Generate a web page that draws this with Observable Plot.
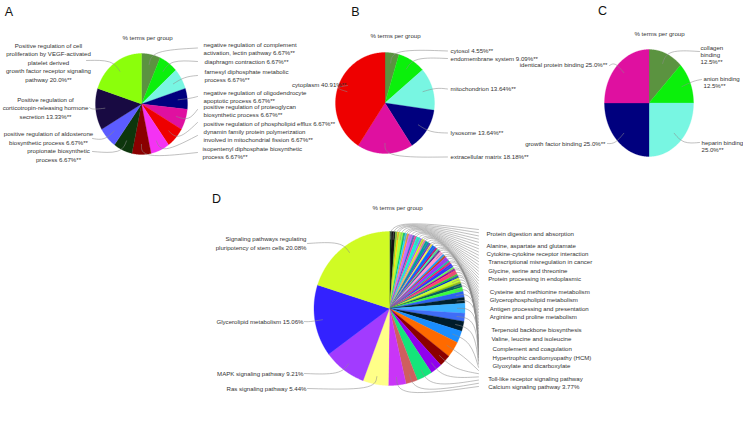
<!DOCTYPE html>
<html><head><meta charset="utf-8">
<script src="https://cdn.jsdelivr.net/npm/d3@7"></script>
<script src="https://cdn.jsdelivr.net/npm/@observablehq/plot@0.6"></script>
<style>body{margin:0;background:#fff}svg{display:block}</style>
</head><body><div id="chart"></div>
<script>
// ---------- Panel A (biological process) ----------
const aLabels = [
 "negative regulation of complement\nactivation, lectin pathway 6.67%**",
 "diaphragm contraction 6.67%**",
 "farnesyl diphosphate metabolic\nprocess 6.67%**",
 "negative regulation of oligodendrocyte\napoptotic process 6.67%**",
 "positive regulation of proteoglycan\nbiosynthetic process 6.67%**",
 "positive regulation of phospholipid efflux 6.67%**",
 "dynamin family protein polymerization\ninvolved in mitochondrial fission 6.67%**",
 "isopentenyl diphosphate biosynthetic\nprocess 6.67%**",
 "propionate biosynthetic\nprocess 6.67%**",
 "positive regulation of aldosterone\nbiosynthetic process 6.67%**",
 "Positive regulation of\ncorticotropin-releasing hormone\nsecretion 13.33%**",
 "Positive regulation of cell\nproliferation by VEGF-activated\nplatelet derived\ngrowth factor receptor signaling\npathway 20.0%**"
];
const aValues = [6.67,6.67,6.67,6.67,6.67,6.67,6.67,6.67,6.67,6.67,13.33,20.0];
const aColors = ["#5b9340","#0bf00b","#78f6e2","#00007e","#df10a0","#ee0000","#f432f4","#8a0000","#0d360c","#5c5cff","#180a42","#8bff0b"];

// ---------- Panel B (cellular component) ----------
const bLabels = ["cytosol 4.55%**","endomembrane system 9.09%**","mitochondrion 13.64%**","lysosome 13.64%**","extracellular matrix 18.18%**","cytoplasm 40.91%**"];
const bValues = [4.55,9.09,13.64,13.64,18.18,40.91];
const bColors = ["#5b9340","#0bf00b","#78f6e2","#00007e","#df10a0","#ee0000"];

// ---------- Panel C (molecular function) ----------
const cLabels = ["collagen\nbinding\n12.5%**","anion binding\n12.5%**","heparin binding\n25.0%**","growth factor binding 25.0%**","identical protein binding 25.0%**"];
const cValues = [12.5,12.5,25.0,25.0,25.0];
const cColors = ["#5b9340","#0bf00b","#78f6e2","#00007e","#df10a0"];

// ---------- Panel D (KEGG pathways) ----------
const dValues = [
 0.42,0.84,0.42,0.42,0.84,0.42,0.42,0.42,0.84,0.42,0.42,0.84,0.42,0.42,0.42,0.84,0.42,0.42,0.84,0.42,
 0.42,0.42,0.84,0.42,0.42,0.84,0.42,0.42,0.84,0.42,0.42,0.84,0.42,0.42,0.84,0.42,0.84,0.84,
 1.26,1.26,2.09,1.67,2.09,2.51,3.35,2.51,2.51,3.35,2.51,
 3.77,5.44,9.21,15.06,20.08
];
const dColors = [
 "#0a3d12","#111111","#7ccc2a","#ffd700","#a8ff3c","#00c865","#2fd0ff","#ff9a2e","#c86cff","#3a62c9",
 "#ff3aa0","#19f2cf","#9b6bff","#d4ff00","#ff7aa8","#00a0a0","#6a2fcf","#fff23a","#0a68ff","#c80066",
 "#3cff9c","#5e2d9c","#ff9ccf","#0aa0ff","#d03a10","#9e30ff","#00cc99","#ff1060","#3434ff","#66ff55",
 "#99009a","#ff4070","#2ed12e","#0034c8","#c8ff30","#9ccc00","#0a5e5e","#3aff3a",
 "#2d62ee","#00222e","#3bb2ff","#3f6df7","#001c2a","#1a8eff","#ff6a00","#8b0000","#9000ee","#14e57a","#cf5f5f",
 "#c935f7","#ffff88","#a23bff","#3322ff","#d0fb24"
];
const dRightLabels = ["Protein digestion and absorption","Alanine, aspartate and glutamate","Cytokine-cytokine receptor interaction","Transcriptional misregulation in cancer","Glycine, serine and threonine","Protein processing in endoplasmic","Cysteine and methionine metabolism","Glycerophospholipid metabolism","Antigen processing and presentation","Arginine and proline metabolism","Terpenoid backbone biosynthesis","Valine, leucine and isoleucine","Complement and coagulation","Hypertrophic cardiomyopathy (HCM)","Glyoxylate and dicarboxylate","Toll-like receptor signaling pathway","Calcium signaling pathway 3.77%"];
const dLeftLabels = ["Ras signaling pathway 5.44%","MAPK signaling pathway 9.21%","Glycerolipid metabolism 15.06%","Signaling pathways regulating\npluripotency of stem cells 20.08%"];
const dLeftSlice = [50,51,52,53];

const titleText = "% terms per group";
const panelLetters = ["A","B","C","D"];

// ---------- layout (positions in pixels) ----------
const W = 743, H = 430;
const pies = [
 {cx:141, cy:103.5, rx:46, ry:50.5, values:aValues, colors:aColors, f0:0.8, f1:1.08},
 {cx:384.5, cy:102.5, rx:49.5, ry:50.5, values:bValues, colors:bColors, f0:0.8, f1:1.08},
 {cx:648.5, cy:102.5, rx:44.5, ry:53.5, values:cValues, colors:cColors, f0:0.8, f1:1.08},
 {cx:389, cy:308, rx:75.5, ry:77, values:dValues, colors:dColors, f0:0.9, f1:1.16}
];
const aLabelXY = [[203,47.5],[204,61],[204,75],[203,95.5],[203,109.5],[203,122.5],[203,135],[202,152],[58,154],[48,137],[45,107],[48,61.5]];
const aAnchor  = ["start","start","start","start","start","start","start","start","middle","middle","middle","middle"];
const aLeadEnd = [[197,47.5],[197,61],[197,75],[197,96],[197,109],[197,122],[197,135],[197,152],[92,151],[92,138],[89,107],[86,60]];
const bLabelXY = [[450,50],[450,57.5],[450,88],[450,132],[450,156],[346,84]];
const bAnchor  = ["start","start","start","start","start","end"];
const bLeadEnd = [[447,50.5],[447,58],[447,88.5],[447,132.5],[447,156.5],[347,85]];
const cLabelXY = [[700,54],[703,81.5],[701,145.5],[605,143],[607,64]];
const cAnchor  = ["start","start","start","end","end"];
const cLeadEnd = [[699,51],[701,79],[699,142],[607,143],[609,65]];
const dRightXY = [[486,233],[486,245],[486,253],[487.7,261],[487.7,270],[487.7,278],[489.3,291],[489.3,299],[489.3,308],[489.3,316],[491,329],[491,338],[492,348],[492,357],[492,365],[487.7,378],[487.7,386]];
const dLeftXY = [[306,388],[303,373],[303,321],[306,242.5]];
const dLeftEnd = [[307,388],[304,373],[304,321],[307,243]];
const titleXY = [[147,38],[395,36],[659,34],[397,208]];
const letterXY = [[8.5,11],[355,11],[602,10.5],[216,198]];

// ---------- geometry from data ----------
function sliceAngles(p){
  const total = d3.sum(p.values); let acc = 0;
  return p.values.map((v,i)=>{ const a0 = acc/total*2*Math.PI; acc += v; const a1 = acc/total*2*Math.PI; return {i,a0,a1,mid:(a0+a1)/2}; });
}
function pt(p,a,f){ return [p.cx + p.rx*f*Math.sin(a), p.cy - p.ry*f*Math.cos(a)]; }

const slicePts = [], leadPts = [];
pies.forEach((p,pi)=>{
  const sl = sliceAngles(p);
  sl.forEach(s=>{
    const key = pi+"-"+s.i, color = p.colors[s.i];
    slicePts.push({key,color,x:p.cx,y:p.cy});
    const n = Math.max(2, Math.ceil((s.a1-s.a0)/(Math.PI/360)));
    for(let k=0;k<=n;k++){ const a = s.a0+(s.a1-s.a0)*k/n; const [x,y]=pt(p,a,1); slicePts.push({key,color,x,y}); }
    slicePts.push({key,color,x:p.cx,y:p.cy});
  });
  let ends = [];
  if (pi===0) ends = aLeadEnd; else if (pi===1) ends = bLeadEnd; else if (pi===2) ends = cLeadEnd;
  else {
    const nRight = p.values.length - dLeftSlice.length;
    for(let i=0;i<nRight;i++) ends.push([478, 229 + (386-229)*i/(nRight-1)]);
    dLeftSlice.forEach((si,j)=>{ ends[si] = dLeftEnd[j]; });
  }
  sl.forEach(s=>{
    const key = "L"+pi+"-"+s.i, e = ends[s.i];
    const left = dLeftSlice.includes(s.i) && pi===3;
    const [x0,y0] = pt(p,s.mid,p.f0), [x1,y1] = pt(p,s.mid,left?1.08:p.f1);
    leadPts.push({key,x:x0,y:y0},{key,x:x1,y:y1},{key,x:e[0],y:e[1]});
  });
});

const labels = [];
aLabels.forEach((t,i)=>labels.push({text:t,x:aLabelXY[i][0],y:aLabelXY[i][1],anchor:aAnchor[i],lh:(aAnchor[i]==="middle"?1.4:1.3)}));
bLabels.forEach((t,i)=>labels.push({text:t,x:bLabelXY[i][0],y:bLabelXY[i][1],anchor:bAnchor[i],lh:1.3}));
cLabels.forEach((t,i)=>labels.push({text:t,x:cLabelXY[i][0],y:cLabelXY[i][1],anchor:cAnchor[i],lh:1.12}));
dRightLabels.forEach((t,i)=>labels.push({text:t,x:dRightXY[i][0],y:dRightXY[i][1],anchor:"start",lh:1.4}));
dLeftLabels.forEach((t,i)=>labels.push({text:t,x:dLeftXY[i][0],y:dLeftXY[i][1],anchor:"end",lh:1.45}));

const font = "Liberation Sans, Arial, Helvetica, sans-serif";
const textMarks = [];
for (const anchor of ["start","middle","end"]) for (const lh of [1.12,1.3,1.4,1.45]) {
  const sub = labels.filter(d=>d.anchor===anchor && d.lh===lh);
  if (sub.length) textMarks.push(Plot.text(sub,{x:"x",y:"y",text:"text",textAnchor:anchor,lineAnchor:"middle",lineHeight:lh,fontSize:6.1,fontFamily:font,fill:"#333"}));
}
const titles = titleXY.map((xy)=>({x:xy[0],y:xy[1],text:titleText}));
const letters = letterXY.map((xy,i)=>({x:xy[0],y:xy[1],text:panelLetters[i]}));

const chart = Plot.plot({
  width: W, height: H,
  margin: 0,
  x: {domain:[0,W], axis:null},
  y: {domain:[0,H], range:[0,H], axis:null},
  color: {type:"identity"},
  style: {fontFamily: font, background:"#fff"},
  marks: [
    Plot.line(slicePts,{x:"x",y:"y",z:"key",fill:"color",stroke:"color",strokeWidth:0.3,curve:"linear"}),
    Plot.line(leadPts,{x:"x",y:"y",z:"key",stroke:"#8c8c8c",strokeWidth:0.55,curve:"basis"}),
    ...textMarks,
    Plot.text(titles,{x:"x",y:"y",text:"text",fontSize:6.1,fontFamily:font,fill:"#333"}),
    Plot.text(letters,{x:"x",y:"y",text:"text",fontSize:12.5,fontFamily:font,fill:"#111"})
  ]
});
document.getElementById("chart").appendChild(chart);
</script>
</body></html>
